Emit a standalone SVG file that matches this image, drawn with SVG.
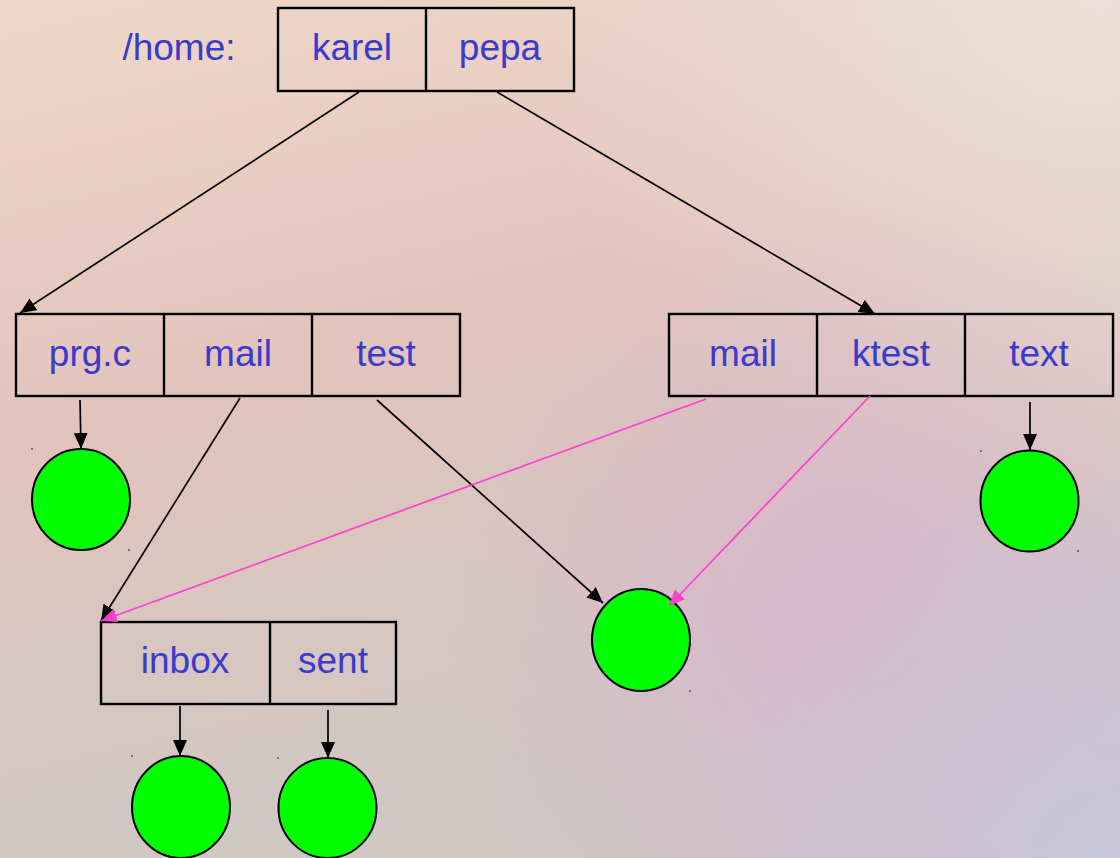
<svg xmlns="http://www.w3.org/2000/svg" width="1120" height="858" viewBox="0 0 1120 858">
<style>
.box{fill:none;stroke:#000;stroke-width:2.4}
.lbl{font-family:"Liberation Sans",Arial,sans-serif;font-size:37px;fill:#3a3acc;text-anchor:middle}
.leaf{fill:#00ff00;stroke:#000;stroke-width:2}
.k{stroke:#000;stroke-width:1.7;fill:none}
.p{stroke:#ff3fcc;stroke-width:1.7;fill:none}
.dot{fill:#333;opacity:0.6}
</style>
<defs>
<linearGradient id="bg" x1="0" y1="0" x2="0.3" y2="1">
<stop offset="0" stop-color="#f0d8c8"/>
<stop offset="0.45" stop-color="#e2c4bc"/>
<stop offset="1" stop-color="#cec8c4"/>
</linearGradient>
<radialGradient id="tr" cx="1100" cy="0" r="560" gradientUnits="userSpaceOnUse">
<stop offset="0" stop-color="#efe4dc" stop-opacity="0.85"/>
<stop offset="1" stop-color="#efe4dc" stop-opacity="0"/>
</radialGradient>
<radialGradient id="pk" cx="860" cy="620" r="420" gradientUnits="userSpaceOnUse">
<stop offset="0" stop-color="#d8b4cc" stop-opacity="0.9"/>
<stop offset="1" stop-color="#d8b4cc" stop-opacity="0"/>
</radialGradient>
<radialGradient id="br" cx="1100" cy="858" r="400" gradientUnits="userSpaceOnUse">
<stop offset="0" stop-color="#c8c6dc" stop-opacity="1"/>
<stop offset="1" stop-color="#c8c6dc" stop-opacity="0"/>
</radialGradient>
<marker id="ak" viewBox="0 0 16 14" refX="16" refY="7" markerWidth="16" markerHeight="14" markerUnits="userSpaceOnUse" orient="auto">
<path d="M0,0 L16,7 L0,14 z" fill="#000"/>
</marker>
<marker id="ap" viewBox="0 0 16 14" refX="16" refY="7" markerWidth="16" markerHeight="14" markerUnits="userSpaceOnUse" orient="auto">
<path d="M0,0 L16,7 L0,14 z" fill="#ff3fcc"/>
</marker>
</defs>
<rect width="1120" height="858" fill="url(#bg)"/>
<rect width="1120" height="858" fill="url(#tr)"/>
<rect width="1120" height="858" fill="url(#pk)"/>
<rect width="1120" height="858" fill="url(#br)"/>

<text class="lbl" x="179" y="60">/home:</text>

<g id="home">
<rect class="box" x="278" y="8" width="296" height="83"/>
<line class="box" x1="426" y1="8" x2="426" y2="91"/>
<text class="lbl" x="352" y="60">karel</text>
<text class="lbl" x="500" y="60">pepa</text>
</g>

<g id="karel">
<rect class="box" x="16" y="314" width="444" height="82"/>
<line class="box" x1="164" y1="314" x2="164" y2="396"/>
<line class="box" x1="312" y1="314" x2="312" y2="396"/>
<text class="lbl" x="90" y="366">prg.c</text>
<text class="lbl" x="238" y="366">mail</text>
<text class="lbl" x="386" y="366">test</text>
</g>

<g id="pepa">
<rect class="box" x="669" y="314" width="444" height="82"/>
<line class="box" x1="817" y1="314" x2="817" y2="396"/>
<line class="box" x1="965" y1="314" x2="965" y2="396"/>
<text class="lbl" x="743" y="366">mail</text>
<text class="lbl" x="891" y="366">ktest</text>
<text class="lbl" x="1039" y="366">text</text>
</g>

<g id="mail">
<rect class="box" x="101" y="622" width="295" height="82"/>
<line class="box" x1="270" y1="622" x2="270" y2="704"/>
<text class="lbl" x="185" y="673">inbox</text>
<text class="lbl" x="333" y="673">sent</text>
</g>

<g id="f-prgc"><ellipse class="leaf" cx="81" cy="499.5" rx="49" ry="50.5"/></g>
<g id="f-test"><ellipse class="leaf" cx="641" cy="640" rx="49" ry="51"/></g>
<g id="f-text"><ellipse class="leaf" cx="1029.5" cy="501" rx="49" ry="50.5"/></g>
<g id="f-inbox"><ellipse class="leaf" cx="181" cy="807" rx="49" ry="51"/></g>
<g id="f-sent"><ellipse class="leaf" cx="327.5" cy="808" rx="49" ry="50"/></g>

<g id="dots">
<rect class="dot" x="31" y="448" width="2" height="2"/>
<rect class="dot" x="128" y="549" width="2" height="2"/>
<rect class="dot" x="980" y="450" width="2" height="2"/>
<rect class="dot" x="1077" y="550" width="2" height="2"/>
<rect class="dot" x="689" y="690" width="2" height="2"/>
<rect class="dot" x="131" y="755" width="2" height="2"/>
<rect class="dot" x="277" y="757" width="2" height="2"/>
</g>

<g id="connectors">
<line class="k" x1="359" y1="92" x2="20" y2="313" marker-end="url(#ak)"/>
<line class="k" x1="497" y1="92" x2="875" y2="314" marker-end="url(#ak)"/>
<line class="k" x1="80" y1="400" x2="81" y2="449" marker-end="url(#ak)"/>
<line class="k" x1="240" y1="398" x2="101" y2="621" marker-end="url(#ak)"/>
<line class="k" x1="377" y1="400" x2="603" y2="603" marker-end="url(#ak)"/>
<line class="p" x1="706" y1="399" x2="101" y2="621" marker-end="url(#ap)"/>
<line class="p" x1="870" y1="396" x2="669" y2="606" marker-end="url(#ap)"/>
<line class="k" x1="1030" y1="402" x2="1030" y2="450" marker-end="url(#ak)"/>
<line class="k" x1="180" y1="706" x2="180" y2="756" marker-end="url(#ak)"/>
<line class="k" x1="328" y1="710" x2="328" y2="758" marker-end="url(#ak)"/>
</g>
</svg>
